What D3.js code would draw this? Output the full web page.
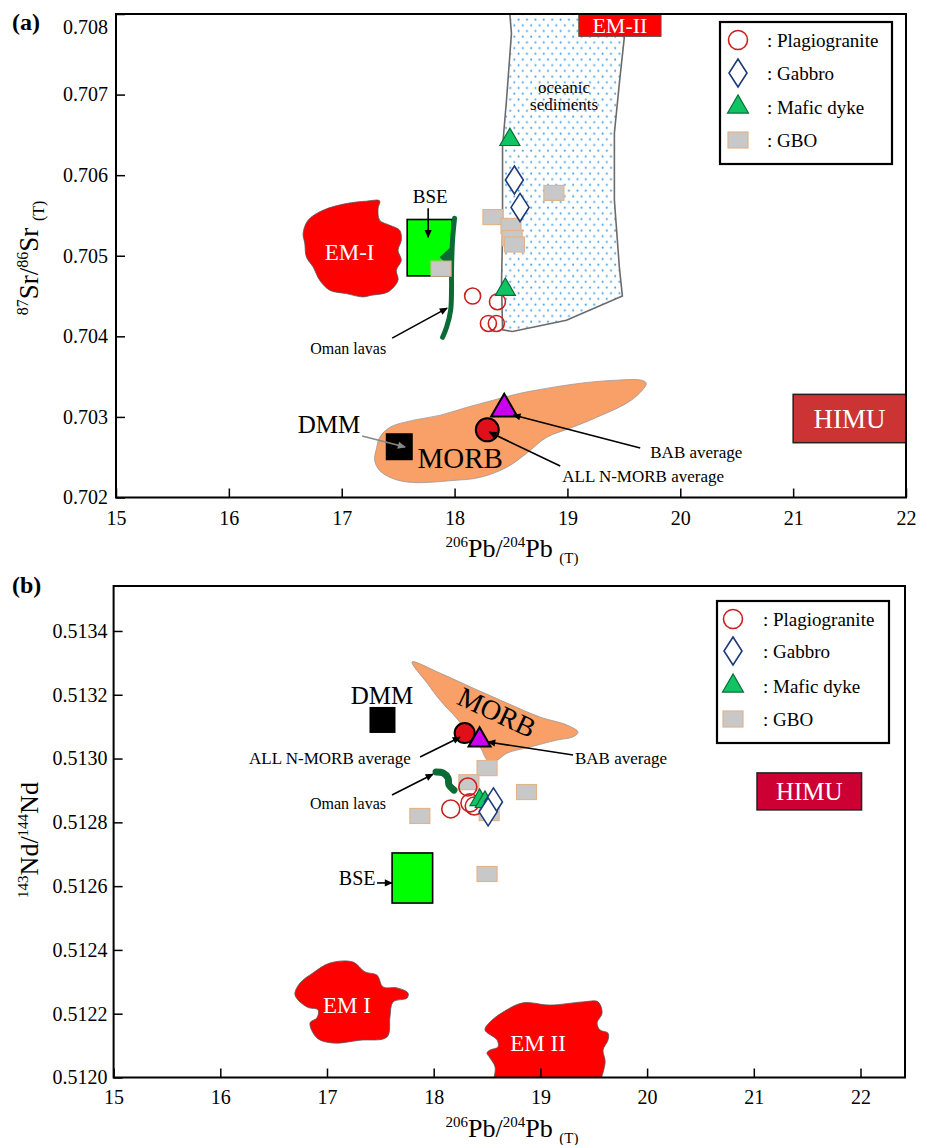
<!DOCTYPE html>
<html>
<head>
<meta charset="utf-8">
<script src="https://cdn.jsdelivr.net/npm/d3@7"></script>
<style>
  body { margin: 0; background: #fff; }
  svg, svg text { font-family: "Liberation Serif", "Times New Roman", serif; }
</style>
</head>
<body>
<svg id="chart" width="930" height="1145" font-family="Liberation Serif"></svg>
<script>
// ---- values ----
var pbTicks = [15, 16, 17, 18, 19, 20, 21, 22];
var srTicks = [0.702, 0.703, 0.704, 0.705, 0.706, 0.707, 0.708];
var ndTicks = [0.5120, 0.5122, 0.5124, 0.5126, 0.5128, 0.5130, 0.5132, 0.5134];
var legendNames = [": Plagiogranite", ": Gabbro", ": Mafic dyke", ": GBO"];

// (a) 206Pb/204Pb vs 87Sr/86Sr
var plagSr = [[18.16, 0.70450], [18.38, 0.70443], [18.30, 0.70416], [18.37, 0.70416]];
var gabbroSr = [[18.53, 0.70594], [18.58, 0.70560]];
var dykeSr = [[18.49, 0.70644], [18.45, 0.70458]];
var gboSr = [[18.88, 0.70578], [18.34, 0.70548], [18.50, 0.70537], [18.51, 0.70522], [18.53, 0.70514], [17.88, 0.70484]];
var morbAvgSr = [18.29, 0.70284];
var babAvgSr = [18.44, 0.70310];
var dmmSr = [17.51, 0.70263];
var bseSr = [[17.58, 0.70475], [17.98, 0.70545]];
var himuSr = [[21.0, 0.70268], [22.0, 0.70328]];
var em2Sr = [[19.10, 0.70772], [19.83, 0.7082]];
var em1SrField = [[16.658, 0.705276], [16.702, 0.705441], [16.835, 0.705565], [17.041, 0.705648], [17.218, 0.705677],
  [17.336, 0.705681], [17.322, 0.705586], [17.336, 0.705441], [17.425, 0.705379], [17.513, 0.705317], [17.528, 0.705193],
  [17.499, 0.705068], [17.528, 0.704944], [17.484, 0.704820], [17.499, 0.704696], [17.410, 0.704551], [17.263, 0.704510],
  [17.189, 0.704489], [17.041, 0.704530], [16.894, 0.704572], [16.805, 0.704696], [16.746, 0.704862], [16.687, 0.704986],
  [16.673, 0.705152]];
var morbSrField = [[17.310, 0.702621], [17.336, 0.702745], [17.425, 0.702870], [17.628, 0.702957], [17.867, 0.703019],
  [18.106, 0.703118], [18.336, 0.703205], [18.575, 0.703292], [18.814, 0.703354], [19.106, 0.703416], [19.398, 0.703453],
  [19.664, 0.703453], [19.699, 0.703416], [19.637, 0.703292], [19.522, 0.703168], [19.257, 0.702994], [19.044, 0.702870],
  [18.814, 0.702745], [18.637, 0.702547], [18.460, 0.702373], [18.221, 0.702248], [17.982, 0.702211], [17.628, 0.702186],
  [17.451, 0.702236], [17.336, 0.702335], [17.292, 0.702460]];
var sedimentSrField = [[18.478, 0.7082], [18.504, 0.70776], [18.460, 0.70693], [18.425, 0.70635], [18.425, 0.70528],
  [18.416, 0.70466], [18.425, 0.70408], [18.513, 0.70406], [18.991, 0.70420], [19.487, 0.70450], [19.460, 0.70486],
  [19.416, 0.70569], [19.416, 0.70652], [19.460, 0.70714], [19.504, 0.70771], [19.496, 0.7082]];
var omanSr = [[18.000, 0.705466], [17.982, 0.705193], [17.973, 0.704820], [17.973, 0.704571], [17.965, 0.704323],
  [17.929, 0.704112], [17.894, 0.703988]];
var omanSrWedge = [[17.982, 0.705130], [17.867, 0.704981], [17.973, 0.704845]];

// (b) 206Pb/204Pb vs 143Nd/144Nd
var plagNd = [[18.32, 0.512911], [18.16, 0.512842], [18.34, 0.512861], [18.38, 0.512851]];
var gabbroNd = [[18.56, 0.512864], [18.51, 0.512833]];
var dykeNd = [[18.43, 0.512870], [18.48, 0.512864]];
var gboNd = [[18.50, 0.512970], [18.33, 0.512926], [18.87, 0.512895], [18.52, 0.512829], [17.87, 0.512820], [18.50, 0.512638]];
var morbAvgNd = [18.29, 0.513080];
var babAvgNd = [18.43, 0.513058];
var dmmNd = [17.52, 0.513121];
var bseNd = [[17.61, 0.512547], [17.99, 0.512704]];
var himuNd = [[21.03, 0.512839], [22.01, 0.512955]];
var morbNdField = [[17.797, 0.513303], [18.059, 0.513268], [18.368, 0.513221], [18.687, 0.513174], [18.997, 0.513130],
  [19.249, 0.513105], [19.353, 0.513083], [19.306, 0.513068], [19.156, 0.513058], [18.903, 0.513036], [18.687, 0.513017],
  [18.593, 0.512995], [18.509, 0.512992], [18.481, 0.513005], [18.434, 0.513036], [18.340, 0.513068], [18.228, 0.513121],
  [18.059, 0.513183], [17.937, 0.513237]];
var em1NdField = [[16.700, 0.512259], [16.747, 0.512296], [16.869, 0.512328], [17.028, 0.512359], [17.244, 0.512362],
  [17.356, 0.512331], [17.468, 0.512321], [17.525, 0.512284], [17.656, 0.512281], [17.759, 0.512265], [17.750, 0.512249],
  [17.619, 0.512237], [17.590, 0.512190], [17.562, 0.512127], [17.309, 0.512117], [17.056, 0.512108], [16.906, 0.512124],
  [16.841, 0.512171], [16.906, 0.512187], [16.916, 0.512212], [16.813, 0.512221]];
var em2NdField = [[18.575, 0.51195], [18.575, 0.512033], [18.528, 0.512061], [18.499, 0.512077], [18.528, 0.512086],
  [18.603, 0.512096], [18.593, 0.512118], [18.481, 0.512149], [18.528, 0.512174], [18.650, 0.512205], [18.837, 0.512234],
  [19.090, 0.512227], [19.399, 0.512237], [19.540, 0.512237], [19.578, 0.512202], [19.531, 0.512171], [19.559, 0.512149],
  [19.634, 0.512139], [19.634, 0.512118], [19.587, 0.512086], [19.606, 0.512045], [19.465, 0.51195]];
var omanNd = [[18.022, 0.512958], [18.087, 0.512955], [18.134, 0.512939], [18.143, 0.512917], [18.190, 0.512901]];

// ---- drawing ----
var svg = d3.select("#chart");
var defs = svg.append("defs");
var serif = "Liberation Serif";

function addHead(id, color) {
  defs.append("marker").attr("id", id)
    .attr("viewBox", "0 0 10 10").attr("refX", 9).attr("refY", 5)
    .attr("markerWidth", 10).attr("markerHeight", 8)
    .attr("markerUnits", "userSpaceOnUse").attr("orient", "auto")
    .append("path").attr("d", "M0,0.5 L10,5 L0,9.5 Z").attr("fill", color);
}
addHead("head-k", "#000");
addHead("head-g", "#888");

// sparse blue dot fill for the sediment field
var pat = defs.append("pattern").attr("id", "dots")
  .attr("patternUnits", "userSpaceOnUse").attr("width", 8.4).attr("height", 11.4);
pat.append("rect").attr("width", 8.4).attr("height", 11.4).attr("fill", "#fff");
pat.append("circle").attr("cx", 2).attr("cy", 2.5).attr("r", 1).attr("fill", "#3fa0ee");
pat.append("circle").attr("cx", 6.2).attr("cy", 8.2).attr("r", 1).attr("fill", "#3fa0ee");

function panel(id, xDomain, yDomain, box) {
  var x = d3.scaleLinear().domain(xDomain).range([box.left, box.right]);
  var y = d3.scaleLinear().domain(yDomain).range([box.bottom, box.top]);
  defs.append("clipPath").attr("id", id + "-clip")
    .append("rect").attr("x", box.left).attr("y", box.top)
    .attr("width", box.right - box.left).attr("height", box.bottom - box.top);
  var g = svg.append("g").attr("class", "panel-" + id);
  var plot = g.append("g").attr("clip-path", "url(#" + id + "-clip)");
  return {x: x, y: y, g: g, plot: plot, box: box};
}

function axes(p, yTicks, yFmt, xPad, yPad) {
  var b = p.box;
  var xa = p.g.append("g").attr("transform", "translate(0," + b.bottom + ")")
    .call(d3.axisBottom(p.x).tickValues(pbTicks).tickSizeInner(-9).tickSizeOuter(0).tickPadding(xPad).tickFormat(d3.format("d")));
  var ya = p.g.append("g").attr("transform", "translate(" + b.left + ",0)")
    .call(d3.axisLeft(p.y).tickValues(yTicks).tickSizeInner(-9).tickSizeOuter(0).tickPadding(yPad).tickFormat(d3.format(yFmt)));
  [xa, ya].forEach(function(a) {
    a.attr("font-family", serif).attr("font-size", 20);
    a.select(".domain").remove();
    a.selectAll(".tick line").attr("stroke", "#000").attr("stroke-width", 1.5);
    a.selectAll(".tick text").attr("fill", "#000");
  });
  p.g.append("rect").attr("x", b.left).attr("y", b.top)
    .attr("width", b.right - b.left).attr("height", b.bottom - b.top)
    .attr("fill", "none").attr("stroke", "#000").attr("stroke-width", 2);
  return ya;
}

function rich(t, parts, big, small) {
  var shift = 0;
  parts.forEach(function(q) {
    var target = q[1] === "sup" ? -Math.round(big * 0.38) : q[1] === "sub" ? Math.round(big * 0.22) : 0;
    t.append("tspan").text(q[0]).attr("dy", target - shift)
      .style("font-size", (q[1] ? small : big) + "px");
    shift = target;
  });
}

function field(p, pts, fill, stroke, curve) {
  return p.plot.append("path").datum(pts)
    .attr("d", d3.line().x(function(d) { return p.x(d[0]); }).y(function(d) { return p.y(d[1]); }).curve(curve))
    .attr("fill", fill).attr("stroke", stroke).attr("stroke-width", 1);
}

function cornerRect(p, c) {
  return p.plot.append("rect")
    .attr("x", p.x(c[0][0])).attr("y", p.y(c[1][1]))
    .attr("width", p.x(c[1][0]) - p.x(c[0][0])).attr("height", p.y(c[0][1]) - p.y(c[1][1]));
}

function txt(p, at, s, size, anchor, fill) {
  return p.g.append("text").attr("x", p.x(at[0])).attr("y", p.y(at[1])).attr("dy", "0.35em")
    .attr("text-anchor", anchor || "middle").attr("fill", fill || "#000")
    .style("font-size", size + "px").text(s);
}

function arrow(p, from, to, grey) {
  p.g.append("line")
    .attr("x1", p.x(from[0])).attr("y1", p.y(from[1]))
    .attr("x2", p.x(to[0])).attr("y2", p.y(to[1]))
    .attr("stroke", grey ? "#888" : "#000").attr("stroke-width", 1.6)
    .attr("marker-end", grey ? "url(#head-g)" : "url(#head-k)");
}

var diamond = "M0,-14 L9,0 L0,14 L-9,0 Z";

function samples(p, plag, gabbro, dyke, gbo, r, triSize) {
  p.plot.selectAll(".gbo").data(gbo).enter().append("rect")
    .attr("x", function(d) { return p.x(d[0]) - 10; }).attr("y", function(d) { return p.y(d[1]) - 7.5; })
    .attr("width", 20).attr("height", 15)
    .attr("fill", "#c8c8c8").attr("stroke", "#e2b48a").attr("stroke-width", 1.2);
  p.plot.selectAll(".plag").data(plag).enter().append("circle")
    .attr("cx", function(d) { return p.x(d[0]); }).attr("cy", function(d) { return p.y(d[1]); })
    .attr("r", r).attr("fill", "none").attr("stroke", "#cc1f1f").attr("stroke-width", 1.6);
  p.plot.selectAll(".dyke").data(dyke).enter().append("path")
    .attr("transform", function(d) { return "translate(" + p.x(d[0]) + "," + p.y(d[1]) + ")"; })
    .attr("d", d3.symbol(d3.symbolTriangle, triSize))
    .attr("fill", "#11c463").attr("stroke", "#0d6b3a").attr("stroke-width", 1.2);
  p.plot.selectAll(".gabbro").data(gabbro).enter().append("path")
    .attr("transform", function(d) { return "translate(" + p.x(d[0]) + "," + p.y(d[1]) + ")"; })
    .attr("d", diamond)
    .attr("fill", "#fff").attr("stroke", "#1c3a78").attr("stroke-width", 1.6);
}

function averages(p, morb, bab, r, triSize) {
  p.plot.append("circle").attr("cx", p.x(morb[0])).attr("cy", p.y(morb[1])).attr("r", r)
    .attr("fill", "#e0101a").attr("stroke", "#000").attr("stroke-width", 2);
  p.plot.append("path")
    .attr("transform", "translate(" + p.x(bab[0]) + "," + p.y(bab[1]) + ")")
    .attr("d", d3.symbol(d3.symbolTriangle, triSize))
    .attr("fill", "#cc00f0").attr("stroke", "#000").attr("stroke-width", 2);
}

function legend(x0, y0, w, h, mx, tx, rows) {
  var g = svg.append("g");
  g.append("rect").attr("x", x0).attr("y", y0).attr("width", w).attr("height", h)
    .attr("fill", "#fff").attr("stroke", "#000").attr("stroke-width", 2.2);
  g.append("circle").attr("cx", mx).attr("cy", rows[0]).attr("r", 9.5)
    .attr("fill", "none").attr("stroke", "#cc1f1f").attr("stroke-width", 1.6);
  g.append("path").attr("transform", "translate(" + mx + "," + rows[1] + ")").attr("d", diamond)
    .attr("fill", "#fff").attr("stroke", "#1c3a78").attr("stroke-width", 1.6);
  g.append("path").attr("transform", "translate(" + mx + "," + rows[2] + ")")
    .attr("d", d3.symbol(d3.symbolTriangle, 190))
    .attr("fill", "#11c463").attr("stroke", "#0d6b3a").attr("stroke-width", 1.2);
  g.append("rect").attr("x", mx - 10).attr("y", rows[3] - 8).attr("width", 20).attr("height", 16)
    .attr("fill", "#c8c8c8").attr("stroke", "#e2b48a").attr("stroke-width", 1.2);
  g.selectAll(".lt").data(legendNames).enter().append("text")
    .attr("x", tx).attr("y", function(d, i) { return rows[i]; }).attr("dy", "0.35em")
    .style("font-size", "19px").text(function(d) { return d; });
}

var blobCurve = d3.curveCatmullRomClosed.alpha(0.5);

// ===== panel (a) =====
var A = panel("a", [15, 22], [0.702, 0.708], {left: 116, right: 906, top: 14, bottom: 497.5});

field(A, sedimentSrField, "url(#dots)", "#6b6b6b", d3.curveLinearClosed).attr("stroke-width", 1.6);
field(A, morbSrField, "#f9a068", "#999", blobCurve).attr("stroke-width", 0.8);
field(A, em1SrField, "#ff0000", "#555", blobCurve).attr("stroke-width", 0.8);
cornerRect(A, bseSr).attr("fill", "#00ff00").attr("stroke", "#000").attr("stroke-width", 1.6);
A.plot.append("path").datum(omanSr)
  .attr("d", d3.line().x(function(d) { return A.x(d[0]); }).y(function(d) { return A.y(d[1]); }).curve(d3.curveCatmullRom))
  .attr("fill", "none").attr("stroke", "#0b6b34").attr("stroke-width", 5).attr("stroke-linecap", "round");
field(A, omanSrWedge, "#0b6b34", "none", d3.curveLinearClosed);
A.plot.append("rect")
  .attr("x", A.x(dmmSr[0]) - 13.5).attr("y", A.y(dmmSr[1]) - 13.5).attr("width", 27).attr("height", 27)
  .attr("fill", "#000");
cornerRect(A, himuSr).attr("fill", "#cc3333").attr("stroke", "#222").attr("stroke-width", 1.5);
cornerRect(A, em2Sr).attr("fill", "#ff0000").attr("stroke", "#555").attr("stroke-width", 0.8);

samples(A, plagSr, gabbroSr, dykeSr, gboSr, 8, 175);
averages(A, morbAvgSr, babAvgSr, 11.5, 300);

var yaA = axes(A, srTicks, ".3f", 13, 8);
yaA.selectAll(".tick text").filter(function(d) { return d === 0.708; }).attr("transform", "translate(0,13)");

txt(A, [17.07, 0.705048], "EM-I", 23, "middle", "#fff");
txt(A, [(himuSr[0][0] + himuSr[1][0]) / 2, (himuSr[0][1] + himuSr[1][1]) / 2], "HIMU", 27, "middle", "#fff");
txt(A, [(em2Sr[0][0] + em2Sr[1][0]) / 2, 0.70786], "EM-II", 22, "middle", "#fff");
txt(A, [18.97, 0.707093], "oceanic", 17);
txt(A, [18.97, 0.706882], "sediments", 17);
txt(A, [17.784, 0.705739], "BSE", 19);
arrow(A, [17.766, 0.705590], [17.766, 0.705230]);
txt(A, [17.057, 0.703854], "Oman lavas", 16);
arrow(A, [17.447, 0.703978], [17.934, 0.704350]);
txt(A, [16.888, 0.702911], "DMM", 25);
arrow(A, [17.181, 0.702763], [17.562, 0.702626], true);
txt(A, [18.050, 0.702490], "MORB", 29);
txt(A, [19.734, 0.702564], "BAB average", 17, "start");
arrow(A, [19.645, 0.702614], [18.520, 0.703023]);
txt(A, [18.954, 0.702267], "ALL N-MORB average", 17, "start");
arrow(A, [18.936, 0.702391], [18.307, 0.702812]);

legend(720, 22, 172, 142, 738, 767, [40, 73, 107, 140]);

svg.append("text").attr("x", 12).attr("y", 30).style("font-size", "24px").style("font-weight", "bold").text("(a)");
rich(svg.append("text").attr("x", 512).attr("y", 557).attr("text-anchor", "middle"),
  [["206", "sup"], ["Pb/", null], ["204", "sup"], ["Pb ", null], ["(T)", "sub"]], 26, 15);
rich(svg.append("text").attr("transform", "translate(38,258) rotate(-90)").attr("text-anchor", "middle"),
  [["87", "sup"], ["Sr/", null], ["86", "sup"], ["Sr ", null], ["(T)", "sub"]], 27, 16);

// ===== panel (b) =====
var B = panel("b", [15, 22.417], [0.512, 0.513541], {left: 113.6, right: 905, top: 586, bottom: 1077.5});

field(B, morbNdField, "#f9a068", "#999", blobCurve).attr("stroke-width", 0.8);
field(B, em1NdField, "#ff0000", "#555", blobCurve).attr("stroke-width", 0.8);
field(B, em2NdField, "#ff0000", "#555", d3.curveCatmullRomClosed.alpha(0.5)).attr("stroke-width", 0.8);
cornerRect(B, bseNd).attr("fill", "#00ff00").attr("stroke", "#000").attr("stroke-width", 1.6);
B.plot.append("rect")
  .attr("x", B.x(dmmNd[0]) - 13).attr("y", B.y(dmmNd[1]) - 13).attr("width", 26).attr("height", 26)
  .attr("fill", "#000");
cornerRect(B, himuNd).attr("fill", "#cc0033").attr("stroke", "#222").attr("stroke-width", 1.5);
B.plot.append("path").datum(omanNd)
  .attr("d", d3.line().x(function(d) { return B.x(d[0]); }).y(function(d) { return B.y(d[1]); }).curve(d3.curveCatmullRom))
  .attr("fill", "none").attr("stroke", "#0b6b34").attr("stroke-width", 7).attr("stroke-linecap", "round");

samples(B, plagNd, gabbroNd, dykeNd, gboNd, 9, 160);
averages(B, morbAvgNd, babAvgNd, 10, 210);

axes(B, ndTicks, ".4f", 12, 6);

txt(B, [17.187, 0.512227], "EM I", 23, "middle", "#fff");
txt(B, [18.978, 0.512108], "EM II", 23, "middle", "#fff");
txt(B, [(himuNd[0][0] + himuNd[1][0]) / 2, (himuNd[0][1] + himuNd[1][1]) / 2], "HIMU", 25, "middle", "#fff");
txt(B, [17.515, 0.513199], "DMM", 25);
B.g.append("text").attr("text-anchor", "middle").attr("dy", "0.35em")
  .attr("transform", "translate(" + B.x(18.593) + "," + B.y(0.513146) + ") rotate(25)")
  .style("font-size", "28px").text("MORB");
txt(B, [17.028, 0.513002], "ALL N-MORB average", 17);
arrow(B, [17.872, 0.513005], [18.247, 0.513067]);
txt(B, [19.324, 0.513002], "BAB average", 17, "start");
arrow(B, [19.306, 0.513011], [18.509, 0.513052]);
txt(B, [17.197, 0.512860], "Oman lavas", 16);
arrow(B, [17.609, 0.512886], [17.993, 0.512951]);
txt(B, [17.283, 0.512625], "BSE", 20);
arrow(B, [17.469, 0.512610], [17.609, 0.512610]);

legend(717, 601, 172, 142, 733, 763, [619, 651, 686, 719]);

svg.append("text").attr("x", 12).attr("y", 593).style("font-size", "24px").style("font-weight", "bold").text("(b)");
rich(svg.append("text").attr("x", 512).attr("y", 1137).attr("text-anchor", "middle"),
  [["206", "sup"], ["Pb/", null], ["204", "sup"], ["Pb ", null], ["(T)", "sub"]], 26, 15);
rich(svg.append("text").attr("transform", "translate(38,840) rotate(-90)").attr("text-anchor", "middle"),
  [["143", "sup"], ["Nd/", null], ["144", "sup"], ["Nd", null]], 26, 15);
</script>
</body>
</html>
